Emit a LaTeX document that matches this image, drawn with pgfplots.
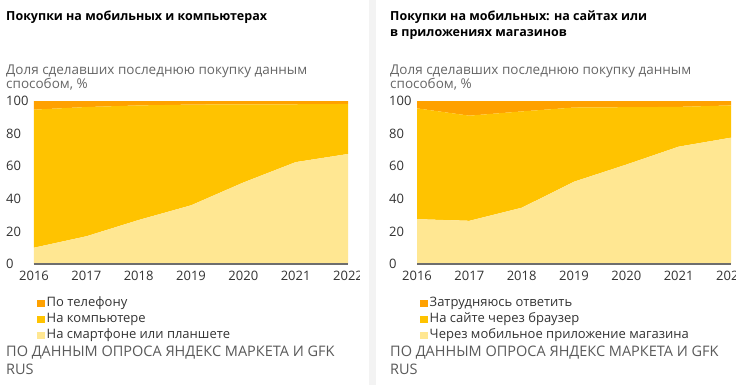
\documentclass[border=0pt]{standalone}
\usepackage{pgfplots}
\pgfplotsset{compat=1.18}
\usepackage{fontspec}
\setmainfont{Open Sans}
\definecolor{cPhone}{HTML}{FFA100}
\definecolor{cComp}{HTML}{FFC300}
\definecolor{cSmart}{HTML}{FFE792}
\definecolor{txt}{HTML}{333333}
\definecolor{subc}{HTML}{666666}
\definecolor{srcc}{HTML}{5A5A5A}
\definecolor{strip}{HTML}{F3F3F3}
\definecolor{axc}{HTML}{6E6E6E}

\pgfplotsset{panel/.style={
  scale only axis, width=314pt, height=163pt,
  xmin=2016, xmax=2022, ymin=0, ymax=100,
  stack plots=y, axis on top,
  axis lines*=left,
  y axis line style={draw=none},
  x axis line style={draw=axc, line width=1.5pt},
  major tick length=0pt,
  xtick={2016,2017,2018,2019,2020,2021,2022},
  xticklabels={2016,2017,2018,2019,2020,2021,2022},
  ytick={0,20,40,60,80,100},
  yticklabels={0,20,40,60,80,100},
  ticklabel style={font=\fontsize{13}{15}\selectfont, text=txt},
  /pgf/number format/assume math mode=true,
  yticklabel style={anchor=west, inner sep=0pt, xshift=-28pt},
  xticklabel style={anchor=north, inner sep=0pt, yshift=-6.5pt},
  legend style={at={(axis description cs:0.0096,-0.19)}, anchor=north west,
    draw=none, fill=none, inner sep=0pt, row sep=0pt,
    font=\fontsize{13}{15}\selectfont, text=txt,
    nodes={text height=9pt, text depth=3pt, inner sep=2pt},
    cells={anchor=west}},
  reverse legend,
  legend image code/.code={\fill[##1] (0pt,-3.5pt) rectangle (7.5pt,3.5pt);},
}}

\begin{document}
\begin{tikzpicture}
\fill[white] (0pt,0pt) rectangle (750pt,-385pt);
\fill[strip] (369pt,0pt) rectangle (376pt,-385pt);

% ---------- left panel ----------
\node[anchor=base west, inner sep=0pt, font=\fontsize{12.5}{15}\selectfont\bfseries, text=black] at (6pt,-20.7pt) {Покупки на мобильных и компьютерах};
\node[anchor=base west, inner sep=0pt, font=\fontsize{13.5}{15}\selectfont, text=subc] at (6pt,-74.5pt) {Доля сделавших последнюю покупку данным};
\node[anchor=base west, inner sep=0pt, font=\fontsize{13.5}{15}\selectfont, text=subc] at (6pt,-89pt) {способом, \%};

\begin{axis}[panel, at={(34pt,-264pt)}, anchor=south west]
\addplot[fill=cSmart, draw=none] coordinates {(2016,10) (2017,17) (2018,27) (2019,36) (2020,50) (2021,62.5) (2022,67.5)} \closedcycle;
\addlegendentry{На смартфоне или планшете}
\addplot[fill=cComp, draw=none] coordinates {(2016,84.7) (2017,79.3) (2018,70.3) (2019,61.8) (2020,48) (2021,35.5) (2022,30.7)} \closedcycle;
\addlegendentry{На компьютере}
\addplot[fill=cPhone, draw=none] coordinates {(2016,5.3) (2017,3.7) (2018,2.7) (2019,2.2) (2020,2) (2021,2) (2022,1.8)} \closedcycle;
\addlegendentry{По телефону}
\end{axis}
\fill[white] (360pt,-266pt) rectangle (369pt,-290pt);

% ---------- right panel ----------
\node[anchor=base west, inner sep=0pt, font=\fontsize{12.5}{15}\selectfont\bfseries, text=black] at (390pt,-20.7pt) {Покупки на мобильных: на сайтах или};
\node[anchor=base west, inner sep=0pt, font=\fontsize{12.5}{15}\selectfont\bfseries, text=black] at (390pt,-36.7pt) {в приложениях магазинов};
\node[anchor=base west, inner sep=0pt, font=\fontsize{13.5}{15}\selectfont, text=subc] at (390pt,-74.5pt) {Доля сделавших последнюю покупку данным};
\node[anchor=base west, inner sep=0pt, font=\fontsize{13.5}{15}\selectfont, text=subc] at (390pt,-89pt) {способом, \%};

\begin{axis}[panel, at={(417pt,-264pt)}, anchor=south west]
\addplot[fill=cSmart, draw=none] coordinates {(2016,27.5) (2017,26.5) (2018,34.5) (2019,50.5) (2020,61) (2021,72) (2022,77.5)} \closedcycle;
\addlegendentry{Через мобильное приложение магазина}
\addplot[fill=cComp, draw=none] coordinates {(2016,68) (2017,64.5) (2018,59.1) (2019,45.5) (2020,35.2) (2021,24.4) (2022,19.8)} \closedcycle;
\addlegendentry{На сайте через браузер}
\addplot[fill=cPhone, draw=none] coordinates {(2016,4.5) (2017,9) (2018,6.4) (2019,4) (2020,3.8) (2021,3.6) (2022,2.7)} \closedcycle;
\addlegendentry{Затрудняюсь ответить}
\end{axis}
\fill[white] (736pt,-266pt) rectangle (750pt,-290pt);

% ---------- sources ----------
\node[anchor=base west, inner sep=0pt, font=\fontsize{14.5}{17}\selectfont, text=srcc] at (6pt,-356pt) {ПО ДАННЫМ ОПРОСА ЯНДЕКС МАРКЕТА И GFK};
\node[anchor=base west, inner sep=0pt, font=\fontsize{14.5}{17}\selectfont, text=srcc] at (6pt,-374pt) {RUS};
\node[anchor=base west, inner sep=0pt, font=\fontsize{14.5}{17}\selectfont, text=srcc] at (390pt,-356pt) {ПО ДАННЫМ ОПРОСА ЯНДЕКС МАРКЕТА И GFK};
\node[anchor=base west, inner sep=0pt, font=\fontsize{14.5}{17}\selectfont, text=srcc] at (390pt,-374pt) {RUS};
\end{tikzpicture}
\end{document}
